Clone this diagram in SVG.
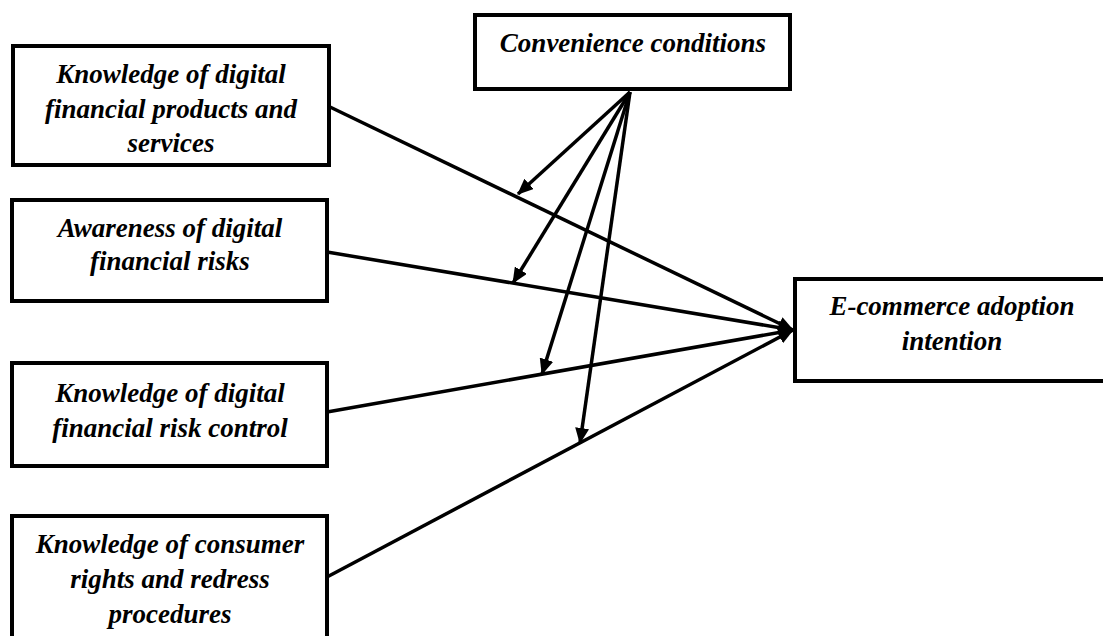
<svg xmlns="http://www.w3.org/2000/svg" width="1103" height="636" viewBox="0 0 1103 636">
<style>
.box{fill:#fff;stroke:#000;stroke-width:4}
.t{font-family:"Liberation Serif","Times New Roman",serif;font-size:27px;font-weight:bold;font-style:italic;fill:#000;text-anchor:middle}
.c{stroke:#000;stroke-width:3.5;fill:none;marker-end:url(#ah)}
</style>
<defs>
<marker id="ah" markerUnits="userSpaceOnUse" markerWidth="16" markerHeight="14" refX="15" refY="7" orient="auto">
<path d="M0,0 L16,7 L0,14 z" fill="#000"/>
</marker>
</defs>
<rect width="1103" height="636" fill="#fff"/>
<g id="connectors">
<line class="c" x1="330" y1="107" x2="793" y2="330"/>
<line class="c" x1="327" y1="252" x2="793" y2="330"/>
<line class="c" x1="327" y1="412" x2="793" y2="330"/>
<line class="c" x1="327" y1="577" x2="793" y2="330"/>
<line class="c" x1="630" y1="92" x2="518" y2="194"/>
<line class="c" x1="630" y1="92" x2="513" y2="283"/>
<line class="c" x1="630" y1="92" x2="542" y2="374"/>
<line class="c" x1="630" y1="92" x2="580" y2="443"/>
</g>
<g id="node-knowledge-products">
<rect class="box" x="13" y="46" width="316" height="119"/>
<text class="t" x="171" y="83">Knowledge of digital</text>
<text class="t" x="171" y="118">financial products and</text>
<text class="t" x="171" y="152">services</text>
</g>
<g id="node-awareness-risks">
<rect class="box" x="12" y="200" width="315" height="101"/>
<text class="t" x="170" y="237">Awareness of digital</text>
<text class="t" x="170" y="270">financial risks</text>
</g>
<g id="node-risk-control">
<rect class="box" x="12" y="363" width="315" height="103"/>
<text class="t" x="170" y="402">Knowledge of digital</text>
<text class="t" x="170" y="437">financial risk control</text>
</g>
<g id="node-consumer-rights">
<rect class="box" x="12" y="516" width="315" height="126"/>
<text class="t" x="170" y="553">Knowledge of consumer</text>
<text class="t" x="170" y="588">rights and redress</text>
<text class="t" x="170" y="623">procedures</text>
</g>
<g id="node-convenience">
<rect class="box" x="475" y="15" width="315" height="74"/>
<text class="t" x="633" y="52">Convenience conditions</text>
</g>
<g id="node-ecommerce">
<rect class="box" x="795" y="279" width="314" height="102"/>
<text class="t" x="952" y="315">E-commerce adoption</text>
<text class="t" x="952" y="350">intention</text>
</g>
</svg>
